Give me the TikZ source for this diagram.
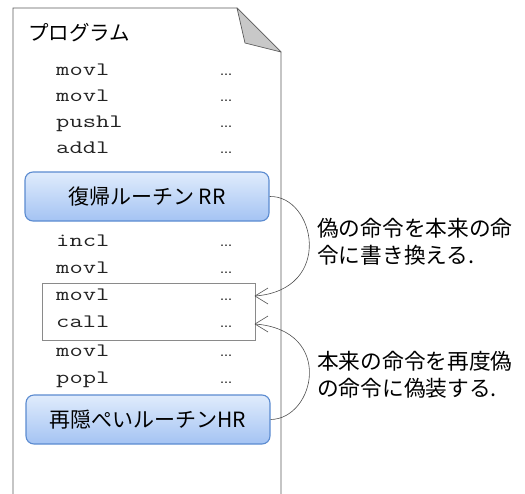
\documentclass[tikz,border=0pt]{standalone}
\usepackage{fontspec}
\setmainfont{Noto Sans CJK JP}
\newfontfamily\jpfont{Noto Sans CJK JP}
\newfontfamily\dotfont{DejaVu Sans}
\definecolor{docline}{HTML}{5A5A5A}
\definecolor{foldgray}{HTML}{C8C8C8}
\definecolor{boxborder}{HTML}{5B8BD0}
\definecolor{boxtop}{HTML}{E0ECFC}
\definecolor{boxbot}{HTML}{A4C3F3}
\definecolor{selgray}{HTML}{8A8A8A}
\definecolor{arrgray}{HTML}{505050}
\definecolor{codecol}{HTML}{222222}
\tikzset{
  code/.style={anchor=base west, inner sep=0pt, text=codecol, font=\ttfamily\fontsize{19}{19}\selectfont},
  dots/.style={anchor=base west, inner sep=0pt, font=\dotfont\fontsize{12}{12}\selectfont},
  routine/.style={draw=boxborder, line width=1.1pt, rounded corners=8pt, top color=boxtop, bottom color=boxbot, minimum width=244pt, minimum height=49pt, inner sep=0pt, font=\jpfont\fontsize{21}{21}\selectfont},
  note/.style={anchor=west, align=left, inner sep=0pt, font=\jpfont\fontsize{21.7}{27}\selectfont},
  conn/.style={draw=arrgray, line width=0.6pt},
}
\newcommand{\cw}[1]{\scalebox{1.36}[1]{#1}}
\begin{document}
\begin{tikzpicture}[x=1pt,y=-1pt]
\useasboundingbox (0,0) rectangle (525,493);
% document outline
\draw[docline, line width=0.9pt] (281,500) -- (281,52) -- (237,8) -- (13,8) -- (13,500);
\draw[docline, line width=0.7pt, fill=foldgray, line join=round] (237,8) -- (245,43) -- (281,52) -- cycle;
% title
\node[anchor=west, inner sep=0pt, font=\jpfont\fontsize{20.5}{20.5}\selectfont] (title) at (28,33) {プログラム};
% code lines (top)
\node[code] (c1) at (56,75.5) {\cw{movl}};
\node[code] (c2) at (56,101) {\cw{movl}};
\node[code] (c3) at (56,127) {\cw{pushl}};
\node[code] (c4) at (56,153) {\cw{addl}};
\node[dots] (d1) at (220,75.5) {…};
\node[dots] (d2) at (220,101) {…};
\node[dots] (d3) at (220,127) {…};
\node[dots] (d4) at (220,153) {…};
% RR routine
\node[routine] (rr) at (147,196.5) {復帰ルーチン RR};
% middle code
\node[code] (c5) at (56,246) {\cw{incl}};
\node[code] (c6) at (56,273) {\cw{movl}};
\node[code] (c7) at (56,300.5) {\cw{movl}};
\node[code] (c8) at (56,327) {\cw{call}};
\node[dots] (d5) at (220,246) {…};
\node[dots] (d6) at (220,273) {…};
\node[dots] (d7) at (220,300.5) {…};
\node[dots] (d8) at (220,327) {…};
% selection rectangle
\node[draw=selgray, line width=0.7pt, minimum width=213pt, minimum height=57pt, inner sep=0pt] (sel) at (148.5,311.5) {};
% lower code
\node[code] (c9) at (56,356) {\cw{movl}};
\node[code] (c10) at (56,383) {\cw{popl}};
\node[dots] (d9) at (220,356) {…};
\node[dots] (d10) at (220,383) {…};
% HR routine
\node[routine] (hr) at (148,419.5) {再隠ぺいルーチンHR};
% connectors
\coordinate (e1) at (255,296);
\coordinate (e2) at (255,324);
\draw[conn] (rr.east) .. controls (315,195) and (335,290) .. (e1);
\draw[conn] (e1) -- ++(13,-8);
\draw[conn] (e1) -- ++(13,8);
\draw[conn] (hr.east) .. controls (315,419) and (335,330) .. (e2);
\draw[conn] (e2) -- ++(13,-8);
\draw[conn] (e2) -- ++(13,8);
% notes
\node[note] (n1) at (317,242) {偽の命令を本来の命\\令に書き換える.};
\node[note] (n2) at (317,375) {本来の命令を再度偽\\の命令に偽装する.};
\end{tikzpicture}
\end{document}
